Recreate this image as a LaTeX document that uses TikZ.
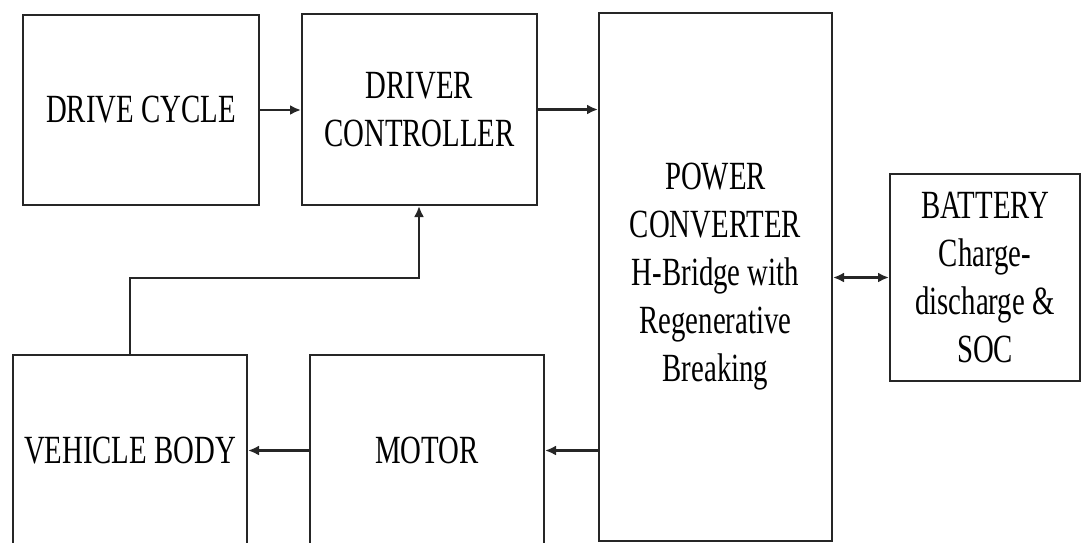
\documentclass[tikz,border=0pt]{standalone}
\usepackage{fontspec}
\setmainfont[FakeStretch=0.72]{Liberation Serif}
\usetikzlibrary{arrows.meta,calc}
\begin{document}
\begin{tikzpicture}[x=1pt,y=-1pt,
  blk/.style={draw=black!85, line width=2pt, rectangle, anchor=north west, align=center, inner sep=0pt,
    font=\fontsize{40}{48}\selectfont},
  arr/.style={draw=black!85, line width=2.2pt, -{Latex[length=11pt,width=10pt]}},
  darr/.style={draw=black!85, line width=2.2pt, {Latex[length=11pt,width=10pt]}-{Latex[length=11pt,width=10pt]}}]
\useasboundingbox (0,0) rectangle (1083,542);
\clip (0,0) rectangle (1083,542);
\node[blk, minimum width=236pt, minimum height=190pt] (dc) at (22,14) {DRIVE CYCLE};
\node[blk, minimum width=235pt, minimum height=191pt] (ctrl) at (301,13) {DRIVER\\CONTROLLER};
\node[blk, minimum width=233pt, minimum height=528pt] (pc) at (598,12) {POWER\\CONVERTER\\H-Bridge with\\Regenerative\\Breaking};
\node[blk, minimum width=190pt, minimum height=207pt] (bat) at (889,173) {BATTERY\\Charge-\\discharge \&\\SOC};
\node[blk, minimum width=234pt, minimum height=191pt] (veh) at (12,354) {VEHICLE BODY};
\node[blk, minimum width=234pt, minimum height=191pt] (mot) at (309,354) {MOTOR};
\coordinate (fb) at (419,278);
\draw[arr] (dc.east) -- (dc.east -| ctrl.west);
\draw[arr] (ctrl.east) -- (ctrl.east -| pc.west);
\draw[darr] (bat.west -| pc.east) -- (bat.west);
\draw[arr] (mot.east -| pc.west) -- (mot.east);
\draw[arr] (mot.west) -- (veh.east);
\draw[arr] (veh.north) |- (fb) -- (fb |- ctrl.south);
\end{tikzpicture}
\end{document}
